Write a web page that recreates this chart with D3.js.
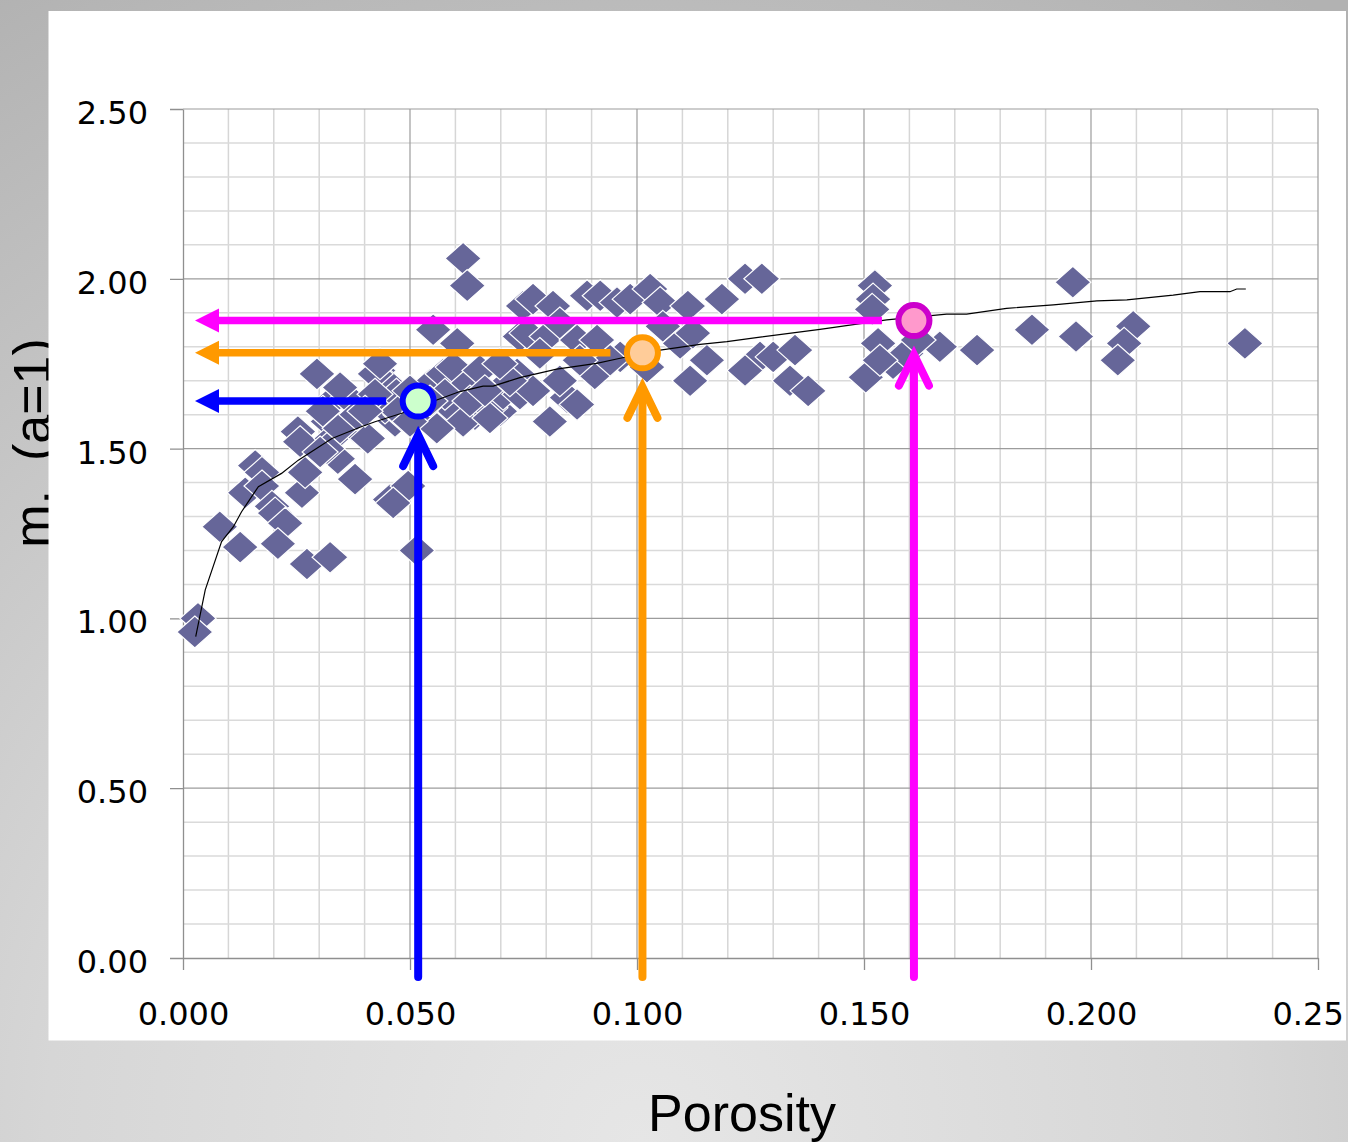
<!DOCTYPE html>
<html>
<head>
<meta charset="utf-8">
<script src="https://cdn.jsdelivr.net/npm/d3@7"></script>
<style>
  html, body { margin: 0; padding: 0; overflow: hidden; background: #c8c8c8; }
  svg { display: block; }
</style>
</head>
<body>
<svg id="chart" width="1348" height="1142"></svg>
<script>
// Core samples: porosity (fraction) and cementation exponent m (a = 1)
const porosity = [
  0.0033, 0.0026, 0.0081, 0.0126, 0.0159, 0.0174, 0.0137, 0.0174, 0.0196, 0.0203,
  0.0225, 0.0209, 0.0273, 0.0324, 0.0253, 0.0258, 0.0262, 0.0269, 0.0295, 0.0328,
  0.0363, 0.0319, 0.0328, 0.0341, 0.0379, 0.0379, 0.0407, 0.0430, 0.0452, 0.0467,
  0.0456, 0.0496, 0.0463, 0.0515, 0.0308, 0.0346, 0.0383, 0.0317, 0.0346, 0.0423,
  0.0434, 0.0302, 0.0445, 0.0480, 0.0420, 0.0470,
  0.0474, 0.0555, 0.0599, 0.0643, 0.0698, 0.0621, 0.0544, 0.0500, 0.0423, 0.0401,
  0.0617, 0.0626, 0.0551, 0.0604, 0.0573, 0.0595, 0.0626, 0.0676, 0.0617, 0.0705,
  0.0742, 0.0736, 0.0742, 0.0749, 0.0559, 0.0676, 0.0846, 0.0808, 0.0868, 0.0771,
  0.0815, 0.0890, 0.0919, 0.0956, 0.0985, 0.1029, 0.1051, 0.1112, 0.1187, 0.1238,
  0.1275, 0.0758, 0.0802, 0.0868, 0.0912, 0.0963, 0.1022, 0.1057, 0.1095, 0.1123,
  0.1154, 0.1117, 0.1271, 0.1238, 0.1300, 0.1348, 0.1337, 0.1377, 0.0771, 0.0720,
  0.0654, 0.0698, 0.0830, 0.0907, 0.0941, 0.0830, 0.0786, 0.0874, 0.0577, 0.0522,
  0.0544, 0.0500, 0.0632, 0.0665,
  0.1524, 0.1520, 0.1518, 0.1531, 0.1504, 0.1564, 0.1593, 0.1535, 0.1667, 0.1749,
  0.1870, 0.1960, 0.1967, 0.2093, 0.2073, 0.2059, 0.2339, 0.1619
];
const cementation = [
  1.00, 0.96, 1.27, 1.21, 1.45, 1.43, 1.37, 1.39, 1.33, 1.31,
  1.28, 1.22, 1.16, 1.18, 1.55, 1.52, 1.37, 1.43, 1.72, 1.64,
  1.65, 1.58, 1.53, 1.47, 1.41, 1.56, 1.53, 1.73, 1.69, 1.58,
  1.35, 1.39, 1.34, 1.20, 1.61, 1.56, 1.60, 1.50, 1.68, 1.72,
  1.75, 1.49, 1.62, 1.60, 1.64, 1.66,
  1.61, 1.59, 1.61, 1.60, 1.61, 1.66, 1.69, 1.67, 1.66, 1.61,
  2.06, 1.98, 1.85, 1.81, 1.72, 1.74, 1.69, 1.62, 1.58, 1.66,
  1.66, 1.72, 1.83, 1.92, 1.56, 1.59, 1.65, 1.58, 1.63, 1.94,
  1.92, 1.95, 1.95, 1.93, 1.94, 1.97, 1.93, 1.92, 1.94, 2.00,
  2.00, 1.84, 1.83, 1.82, 1.82, 1.77, 1.74, 1.86, 1.81, 1.84,
  1.76, 1.70, 1.77, 1.73, 1.77, 1.79, 1.70, 1.67, 1.67, 1.70,
  1.73, 1.75, 1.70, 1.72, 1.76, 1.87, 1.78, 1.76, 1.66, 1.61,
  1.64, 1.58, 1.64, 1.67,
  1.98, 1.94, 1.91, 1.81, 1.71, 1.75, 1.78, 1.76, 1.80, 1.79,
  1.85, 1.99, 1.83, 1.86, 1.81, 1.76, 1.81, 1.82
];

// Fitted trend line, sampled along porosity
const trendPorosity = [
  0.0028, 0.0049, 0.0085, 0.0111, 0.0129, 0.0166, 0.0217, 0.0254, 0.0328, 0.0394,
  0.0423, 0.0482, 0.0559, 0.0610, 0.0661, 0.0683, 0.0742, 0.0823, 0.0911, 0.0963,
  0.1051, 0.1139, 0.1198, 0.1271, 0.1403, 0.1550, 0.1682, 0.1726, 0.1814, 0.1917,
  0.2013, 0.2079, 0.2181, 0.2240, 0.2306, 0.2321, 0.2341
];
const trendM = [
  0.946, 1.084, 1.226, 1.270, 1.314, 1.388, 1.427, 1.466, 1.530, 1.565,
  1.579, 1.604, 1.643, 1.668, 1.684, 1.684, 1.709, 1.734, 1.751, 1.766,
  1.790, 1.807, 1.815, 1.828, 1.851, 1.879, 1.896, 1.896, 1.913, 1.923,
  1.935, 1.938, 1.952, 1.962, 1.962, 1.970, 1.970
];

// Highlighted read-outs on the trend
const pickPorosity = [0.0518, 0.1012, 0.1610];
const pickM = [1.640, 1.782, 1.877];
const pickArrow = ["#0000ff", "#ff9900", "#ff00ff"];
const pickRing = ["#0000ff", "#ff9900", "#cc00cc"];
const pickFill = ["#ccffcc", "#ffcc99", "#ff99cc"];

// Axis ticks
const xTicks = [0, 0.05, 0.10, 0.15, 0.20, 0.25];
const xTickLabels = ["0.000", "0.050", "0.100", "0.150", "0.200", "0.25"];
const yTicks = [0, 0.5, 1.0, 1.5, 2.0, 2.5];
const yTickLabels = ["0.00", "0.50", "1.00", "1.50", "2.00", "2.50"];

const svg = d3.select("#chart");
const W = 1348, H = 1142;

// Background
const defs = svg.append("defs");
const bg = defs.append("radialGradient").attr("id", "bgGrad")
  .attr("gradientUnits", "userSpaceOnUse")
  .attr("cx", 640).attr("cy", 1142).attr("r", 1320);
bg.append("stop").attr("offset", 0).attr("stop-color", "#e6e6e6");
bg.append("stop").attr("offset", 0.45).attr("stop-color", "#d6d6d6");
bg.append("stop").attr("offset", 1).attr("stop-color", "#b2b2b2");
svg.append("rect").attr("width", W).attr("height", H).attr("fill", "url(#bgGrad)");

// Y axis title sits partly under the white panel
svg.append("text")
  .attr("transform", "translate(50,443) rotate(-90)")
  .attr("text-anchor", "middle")
  .attr("font-family", "Liberation Sans, Arial, sans-serif")
  .attr("font-size", 52)
  .attr("fill", "#000")
  .attr("xml:space", "preserve")
  .style("white-space", "pre")
  .text("m,  (a=1)");

// White chart panel
const panel = { x: 48.5, y: 11, w: 1297.5, h: 1029.5 };
defs.append("clipPath").attr("id", "panelClip")
  .append("rect").attr("x", panel.x).attr("y", panel.y).attr("width", panel.w).attr("height", panel.h);
svg.append("rect").attr("x", panel.x).attr("y", panel.y).attr("width", panel.w).attr("height", panel.h)
  .attr("fill", "#ffffff");

const g = svg.append("g").attr("clip-path", "url(#panelClip)");

const x = d3.scaleLinear().domain([0, 0.25]).range([183, 1318]);
const y = d3.scaleLinear().domain([0, 2.5]).range([958, 109]);

// Gridlines
const minorX = d3.range(0, 0.2501, 0.01).filter(v => Math.abs(v / 0.05 - Math.round(v / 0.05)) > 1e-6);
const minorY = d3.range(0, 2.5001, 0.1).filter(v => Math.abs(v / 0.5 - Math.round(v / 0.5)) > 1e-6);
const grid = g.append("g");
grid.selectAll(".mx").data(minorX).join("line")
  .attr("x1", d => x(d)).attr("x2", d => x(d)).attr("y1", y(2.5)).attr("y2", y(0))
  .attr("stroke", "#d6d6d6").attr("stroke-width", 1.5);
grid.selectAll(".my").data(minorY).join("line")
  .attr("x1", x(0)).attr("x2", x(0.25)).attr("y1", d => y(d)).attr("y2", d => y(d))
  .attr("stroke", "#dadada").attr("stroke-width", 1.5);
grid.selectAll(".Mx").data(xTicks.slice(1)).join("line")
  .attr("x1", d => x(d)).attr("x2", d => x(d)).attr("y1", y(2.5)).attr("y2", y(0))
  .attr("stroke", "#9c9c9c").attr("stroke-width", 1.2);
grid.selectAll(".My").data(yTicks.slice(1)).join("line")
  .attr("x1", x(0)).attr("x2", x(0.25)).attr("y1", d => y(d)).attr("y2", d => y(d))
  .attr("stroke", "#9c9c9c").attr("stroke-width", 1.2);

// Axes
const tickFont = "DejaVu Sans, Verdana, sans-serif";
const yAxis = g.append("g").attr("transform", `translate(${x(0)},0)`)
  .call(d3.axisLeft(y).tickValues(yTicks).tickFormat((d, i) => yTickLabels[i])
    .tickSize(13).tickSizeOuter(0).tickPadding(22));
const xAxis = g.append("g").attr("transform", `translate(0,${y(0)})`)
  .call(d3.axisBottom(x).tickValues(xTicks).tickFormat((d, i) => xTickLabels[i])
    .tickSize(12).tickSizeOuter(0).tickPadding(32));
[yAxis, xAxis].forEach(ax => {
  ax.select(".domain").attr("stroke", "#8f8f8f").attr("stroke-width", 1.3);
  ax.selectAll(".tick line").attr("stroke", "#8f8f8f").attr("stroke-width", 1.3);
  ax.selectAll(".tick text").attr("font-family", tickFont).attr("font-size", 32).attr("fill", "#000");
});
yAxis.selectAll(".tick text").attr("dy", "0.45em");
// last porosity label runs up to the panel edge, left-aligned like the full-width labels
xAxis.selectAll(".tick").filter((d, i) => i === xTicks.length - 1).select("text")
  .attr("text-anchor", "start").attr("x", -46);

// Sample points (diamonds)
const samples = porosity.map((p, i) => ({ p, m: cementation[i] }));
const diamond = "M0,-16L18,0L0,16L-18,0Z";
g.append("g").selectAll("path").data(samples).join("path")
  .attr("d", diamond)
  .attr("transform", d => `translate(${x(d.p)},${y(d.m)})`)
  .attr("fill", "#666699")
  .attr("stroke", "#ffffff").attr("stroke-width", 1.2);

// Trend line
const trend = trendPorosity.map((p, i) => [p, trendM[i]]);
g.append("path").datum(trend)
  .attr("d", d3.line().x(d => x(d[0])).y(d => y(d[1])).curve(d3.curveLinear))
  .attr("fill", "none").attr("stroke", "#000").attr("stroke-width", 1.2);

// Read-out arrows and markers
const picks = pickPorosity.map((p, i) => ({ p, m: pickM[i], arrow: pickArrow[i], ring: pickRing[i], fill: pickFill[i] }));
const ov = g.append("g");
picks.forEach(d => {
  const cx = x(d.p), cy = y(d.m);
  const tipX = x(0) + 12;
  // horizontal arrow to the m axis
  ov.append("line").attr("x1", cx - 32).attr("x2", tipX + 20).attr("y1", cy).attr("y2", cy)
    .attr("stroke", d.arrow).attr("stroke-width", 7.5);
  ov.append("path")
    .attr("d", `M${tipX},${cy}L${tipX + 24},${cy - 12}L${tipX + 24},${cy + 12}Z`)
    .attr("fill", d.arrow);
  // vertical arrow up from the porosity axis
  const tipY = cy + 34;
  ov.append("line").attr("x1", cx).attr("x2", cx).attr("y1", y(0) + 19).attr("y2", tipY + 2)
    .attr("stroke", d.arrow).attr("stroke-width", 8).attr("stroke-linecap", "round");
  ov.append("path")
    .attr("d", `M${cx - 15},${tipY + 31}L${cx},${tipY}L${cx + 15},${tipY + 31}`)
    .attr("fill", "none").attr("stroke", d.arrow).attr("stroke-width", 8)
    .attr("stroke-linecap", "round").attr("stroke-linejoin", "miter");
  // marker on the trend
  ov.append("circle").attr("cx", cx).attr("cy", cy).attr("r", 15.5)
    .attr("fill", d.fill).attr("stroke", d.ring).attr("stroke-width", 6);
});

// X axis title
svg.append("text")
  .attr("x", 742).attr("y", 1131)
  .attr("text-anchor", "middle")
  .attr("font-family", "Liberation Sans, Arial, sans-serif")
  .attr("font-size", 52)
  .attr("fill", "#000")
  .text("Porosity");
</script>
</body>
</html>
